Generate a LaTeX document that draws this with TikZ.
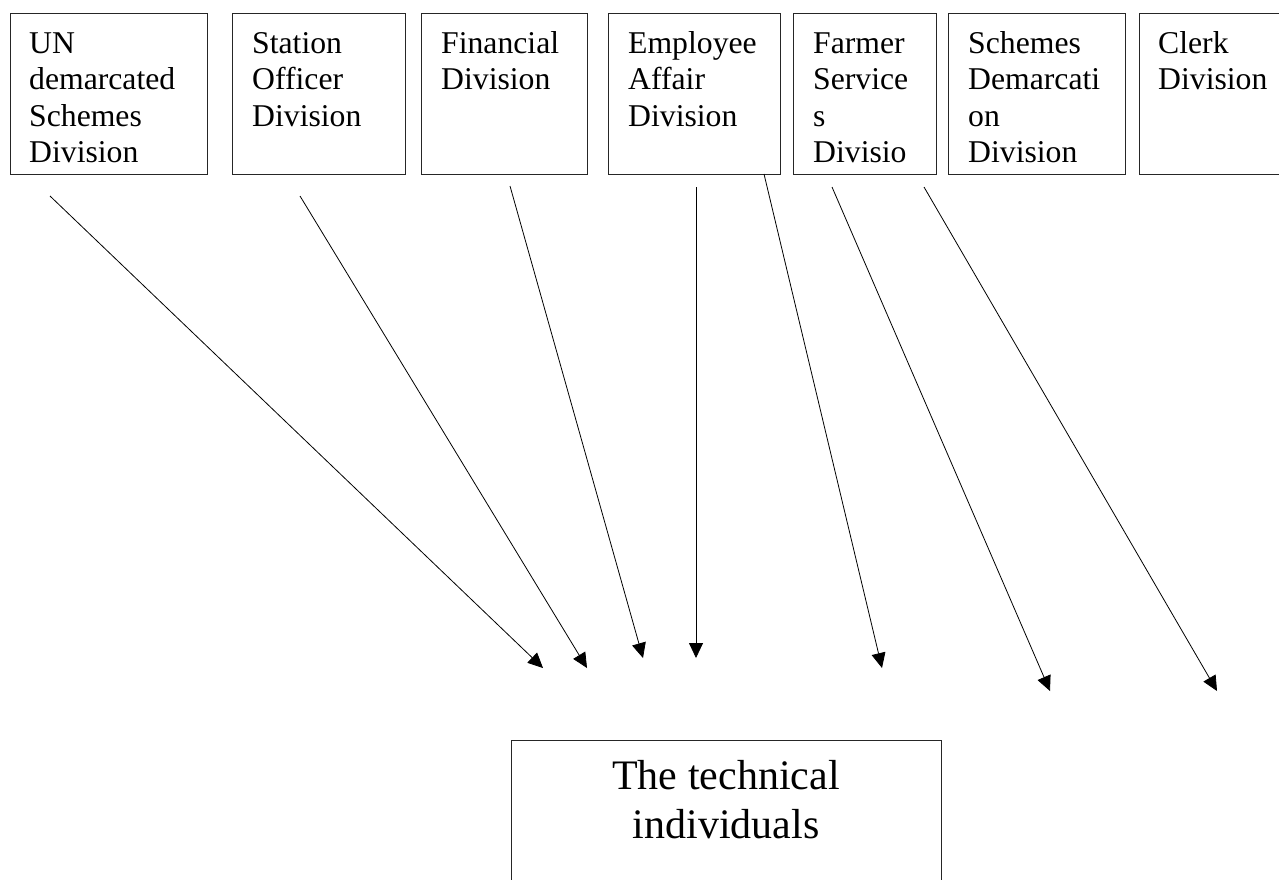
\documentclass[tikz,border=0pt]{standalone}
\usepackage{fontspec}
\setmainfont{Liberation Serif}
\usetikzlibrary{arrows.meta}
\newcommand{\firstln}{\rule{0pt}{22pt}}
\newcommand{\firstbig}{\rule{0pt}{29pt}}
\begin{document}
\begin{tikzpicture}[x=1pt,y=-1pt,
  divbox/.style={draw=black!85, line width=0.9pt, anchor=north west, inner sep=0pt, outer sep=0pt},
  divtext/.style={anchor=north west, inner sep=0pt, align=left, font=\fontsize{31.7pt}{36.5pt}\selectfont},
  bigtext/.style={anchor=north, inner sep=0pt, align=center, font=\fontsize{42pt}{49pt}\selectfont},
  arr/.style={draw=black, line width=0.8pt, -{Triangle[length=15pt,width=14pt]}}]
\useasboundingbox (0,0) rectangle (1279,879);
\fill[white] (0,0) rectangle (1279,879);

\node[divbox, minimum width=197pt, minimum height=161pt] (b1) at (10,13) {};
\node[divbox, minimum width=173pt, minimum height=161pt] (b2) at (232,13) {};
\node[divbox, minimum width=166pt, minimum height=161pt] (b3) at (421,13) {};
\node[divbox, minimum width=172pt, minimum height=161pt] (b4) at (608,13) {};
\node[divbox, minimum width=143pt, minimum height=161pt] (b5) at (793,13) {};
\node[divbox, minimum width=177pt, minimum height=161pt] (b6) at (948,13) {};
\node[divbox, minimum width=160pt, minimum height=161pt] (b7) at (1139,13) {};
\node[divbox, minimum width=430pt, minimum height=160pt] (tech) at (511,740) {};

\node[divtext] (t1) at (29,31) {\firstln UN\\demarcated\\Schemes\\Division};
\node[divtext] (t2) at (252,31) {\firstln Station\\Officer\\Division};
\node[divtext] (t3) at (441,31) {\firstln Financial\\Division};
\node[divtext] (t4) at (628,31) {\firstln Employee\\Affair\\Division};
\node[divtext] (t5) at (813,31) {\firstln Farmer\\Service\\s\\Divisio};
\node[divtext] (t6) at (968,31) {\firstln Schemes\\Demarcati\\on\\Division};
\node[divtext] (t7) at (1158,31) {\firstln Clerk\\Division};
\node[bigtext] (tt) at (726,760) {\firstbig The technical\\individuals};

\coordinate (s1) at (50,196);  \coordinate (e1) at (543,668);
\coordinate (s2) at (300,196); \coordinate (e2) at (587,668);
\coordinate (s3) at (510,186); \coordinate (e3) at (643,658);
\coordinate (s4) at (696,187); \coordinate (e4) at (696,658);
\coordinate (s5) at (764,174); \coordinate (e5) at (882,668);
\coordinate (s6) at (832,187); \coordinate (e6) at (1050,691);
\coordinate (s7) at (924,187); \coordinate (e7) at (1217,691);

\draw[arr] (s1) -- (e1);
\draw[arr] (s2) -- (e2);
\draw[arr] (s3) -- (e3);
\draw[arr] (s4) -- (e4);
\draw[arr] (s5) -- (e5);
\draw[arr] (s6) -- (e6);
\draw[arr] (s7) -- (e7);
\end{tikzpicture}
\end{document}
